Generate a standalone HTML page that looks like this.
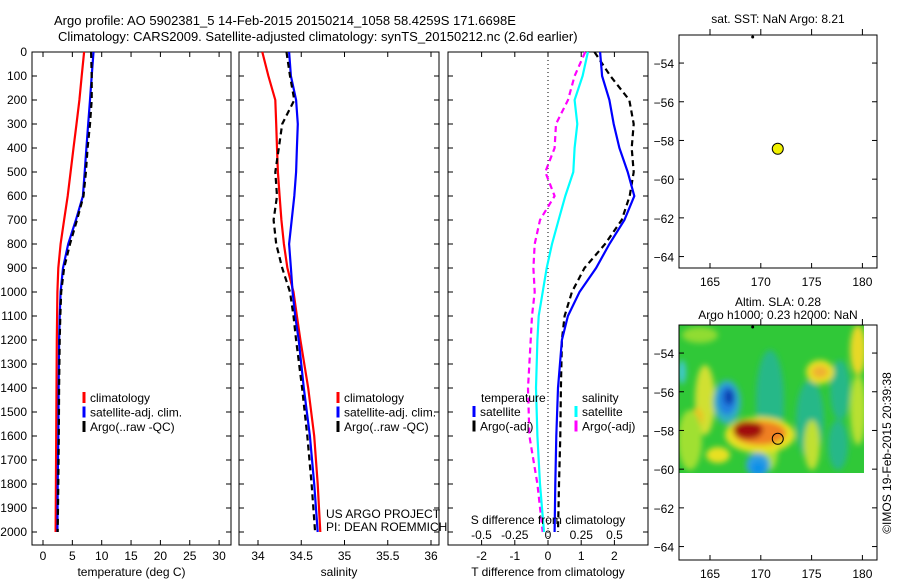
<!DOCTYPE html>
<html><head><meta charset="utf-8">
<style>
html,body{margin:0;padding:0;background:#fff;}
svg{display:block;font-family:"Liberation Sans",sans-serif;}
text{font-size:12px;fill:#000;}
</style></head>
<body>
<svg id="fig" width="900" height="580" viewBox="0 0 900 580" xmlns="http://www.w3.org/2000/svg">
<defs>
<filter id="blur" x="-20%" y="-20%" width="140%" height="140%"><feGaussianBlur stdDeviation="3"/></filter>
<clipPath id="hmclip"><rect x="679" y="325" width="185" height="148"/></clipPath>
</defs>
<text x="54" y="25" style="font-size:13px">Argo profile: AO 5902381_5 14-Feb-2015 20150214_1058 58.4259S 171.6698E</text>
<text x="58" y="41" style="font-size:13px">Climatology: CARS2009. Satellite-adjusted climatology: synTS_20150212.nc (2.6d earlier)</text>
<g id="g"></g>
</svg>
<script>
// depth levels (dbar)
const depths=[0,100,200,300,400,500,600,700,800,900,1000,1100,1200,1400,1600,1800,2000];
// temperature (deg C)
const tClim=[7.0,6.6,6.2,5.7,5.2,4.7,4.2,3.6,3.0,2.6,2.45,2.4,2.35,2.3,2.25,2.2,2.15];
const tSat=[8.6,8.3,8.0,7.7,7.4,7.1,6.8,5.6,4.3,3.4,3.0,2.85,2.75,2.65,2.6,2.5,2.45];
const tArgo=[8.2,8.3,8.3,8.0,7.6,7.3,6.9,5.8,4.6,3.6,3.1,2.95,2.85,2.75,2.7,2.6,2.5];
// salinity
const sClim=[34.05,34.12,34.20,34.21,34.22,34.23,34.25,34.27,34.30,34.34,34.41,34.45,34.49,34.58,34.65,34.69,34.72];
const sSat=[34.36,34.38,34.44,34.46,34.45,34.44,34.42,34.39,34.36,34.38,34.40,34.43,34.47,34.53,34.60,34.65,34.69];
const sArgo=[34.33,34.37,34.42,34.28,34.24,34.20,34.22,34.18,34.21,34.28,34.37,34.41,34.44,34.51,34.57,34.62,34.66];
// differences from climatology
const dTSat=[1.57,1.63,1.85,1.98,2.15,2.4,2.6,2.3,1.85,1.45,0.95,0.6,0.42,0.3,0.25,0.22,0.2];
const dTArgo=[1.4,1.88,2.45,2.58,2.52,2.58,2.46,2.22,1.72,1.1,0.72,0.5,0.42,0.39,0.37,0.33,0.3];
const dSSat=[0.30,0.26,0.20,0.22,0.20,0.19,0.13,0.08,0.03,-0.01,-0.04,-0.07,-0.08,-0.09,-0.08,-0.06,-0.03];
const dSArgo=[0.28,0.20,0.15,0.06,0.05,-0.02,0.05,-0.06,-0.10,-0.11,-0.10,-0.12,-0.13,-0.15,-0.14,-0.08,-0.04];
const depthTicks=[0,100,200,300,400,500,600,700,800,900,1000,1100,1200,1300,1400,1500,1600,1700,1800,1900,2000];
const tTicks=[0,5,10,15,20,25,30];
const sTicks=[34,34.5,35,35.5,36];
const sTickLabels=["34","34.5","35","35.5","36"];
const dtTicks=[-2,-1,0,1,2];
const dsTicks=[-0.5,-0.25,0,0.25,0.5];
const dsTickLabels=["-0.5","-0.25","0","0.25","0.5"];
const lonTicks=[165,170,175,180];
const latTicks=[-54,-56,-58,-60,-62,-64];
const argoLon=[171.67];
const argoLat=[-58.43];

const NS='http://www.w3.org/2000/svg';
const G=document.getElementById('g');
function mk(tag,attrs,parent){const e=document.createElementNS(NS,tag);for(const k in attrs)e.setAttribute(k,attrs[k]);(parent||G).appendChild(e);return e;}
function txt(x,y,s,anchor,parent,size){const e=mk('text',{x:x,y:y,'text-anchor':anchor||'start'},parent);if(size)e.style.fontSize=size+'px';e.textContent=s;return e;}
const yD=d=>52+d*0.24;
const Y0=52,Y1=545;

function panel(name,x0,x1,sx,ticks,labels,xlabel){
  const g=mk('g',{});
  
  
  const r=mk('rect',{x:x0,y:Y0,width:x1-x0,height:Y1-Y0,fill:'none',stroke:'#000','stroke-width':1},g);
  
  
  ticks.forEach((v,i)=>{const x=sx(v);
    mk('line',{x1:x,x2:x,y1:Y1,y2:Y1-5,stroke:'#000'},g);
    mk('line',{x1:x,x2:x,y1:Y0,y2:Y0+5,stroke:'#000'},g);
    if(labels){const t=txt(x,Y1+15,labels[i],'middle',g);}
  });
  depthTicks.forEach(d=>{mk('line',{x1:x0,x2:x0+5,y1:yD(d),y2:yD(d),stroke:'#000'},g);mk('line',{x1:x1,x2:x1-5,y1:yD(d),y2:yD(d),stroke:'#000'},g);});
  if(xlabel){const t=txt((x0+x1)/2,Y1+31,xlabel,'middle',g);}
  return g;
}
function line(g,sx,vals,color,dash,name){
  const p=vals.map((v,i)=>sx(v).toFixed(1)+','+yD(depths[i]).toFixed(1)).join(' ');
  const e=mk('polyline',{points:p,fill:'none',stroke:color,'stroke-width':2.2},g);
  if(dash)e.setAttribute('stroke-dasharray',dash);
  
  
}
function legend(g,x,y,items){
  items.forEach((it,i)=>{const yy=y+i*14.5;
    mk('line',{x1:x,x2:x,y1:yy-10,y2:yy+1,stroke:it[1],'stroke-width':3},g);
    const t=txt(x+6,yy,it[0],'start',g);
    
    
  });
}
depthTicks.forEach(d=>{const t=txt(27,yD(d)+4,String(d),'end');});

// Panel 1 temperature
const sxT=v=>43+v*5.87;
const p1=panel('temperature-panel',32,231,sxT,tTicks,tTicks.map(String),'temperature (deg C)');
line(p1,sxT,tClim,'#f00',null,'temperature-climatology-line');
line(p1,sxT,tSat,'#00f',null,'temperature-satellite-line');
line(p1,sxT,tArgo,'#000','6,4','temperature-argo-line');
legend(p1,84,402,[['climatology','#f00'],['satellite-adj. clim.','#00f'],['Argo(..raw -QC)','#000']]);

// Panel 2 salinity
const sxS=v=>258+(v-34)*86.5;
const p2=panel('salinity-panel',239,439,sxS,sTicks,sTickLabels,'salinity');
line(p2,sxS,sClim,'#f00',null,'salinity-climatology-line');
line(p2,sxS,sSat,'#00f',null,'salinity-satellite-line');
line(p2,sxS,sArgo,'#000','6,4','salinity-argo-line');
legend(p2,338,402,[['climatology','#f00'],['satellite-adj. clim.','#00f'],['Argo(..raw -QC)','#000']]);
txt(326,518,'US ARGO PROJECT','start',p2);
txt(326,531,'PI: DEAN ROEMMICH','start',p2);

// Panel 3 differences
const sxDT=v=>548+v*33.2;
const sxDS=v=>548+v*133;
const p3=panel('difference-panel',448,648,sxDT,dtTicks,dtTicks.map(String),'T difference from climatology');
mk('line',{x1:548,x2:548,y1:Y0,y2:Y1,stroke:'#000','stroke-dasharray':'1,3'},p3);
line(p3,sxDS,dSArgo,'#f0f','6,4','salinity-diff-argo-line');
line(p3,sxDS,dSSat,'#0ff',null,'salinity-diff-satellite-line');
line(p3,sxDT,dTArgo,'#000','6,4','temperature-diff-argo-line');
line(p3,sxDT,dTSat,'#00f',null,'temperature-diff-satellite-line');
txt(481,402,'temperature','start',p3);
legend(p3,474,416,[['satellite','#00f'],['Argo(-adj)','#000']]);
txt(582,402,'salinity','start',p3);
legend(p3,576,416,[['satellite','#0ff'],['Argo(-adj)','#f0f']]);
txt(548,524,'S difference from climatology','middle',p3);
dsTicks.forEach((v,i)=>{const t=txt(sxDS(v),539,dsTickLabels[i],'middle',p3);});

// Maps
const sxLon=v=>710+(v-165)*10.16;
function map(name,top,bottom,title1,title2){
  const g=mk('g',{});
  
  
  const latY=v=>top+(v-(-52.55))*(-19.35);
  if(title1)txt(778,title2?top-19:top-12,title1,'middle',g);
  if(title2)txt(778,top-6,title2,'middle',g);
  return {g,latY};
}
const m1=map('sst-map',35,268,'sat. SST: NaN Argo: 8.21',null);
const m2=map('sla-map',325,560,'Altim. SLA: 0.28','Argo h1000: 0.23 h2000: NaN');
const hm=mk('g',{'clip-path':'url(#hmclip)'},m2.g);


mk('rect',{x:679,y:325,width:185,height:148,fill:'#30c838'},hm);
const fb=mk('g',{filter:'url(#blur)'},hm);
[[700,335,18,8,'#90dc30'],[858,350,8,25,'#e8d828'],[858,410,8,35,'#b8e030'],
 [705,400,10,35,'#d0e030'],[697,418,6,10,'#f0c020'],[690,440,12,30,'#a0e030'],[682,372,4,12,'#40c8d0'],
 [770,400,14,50,'#28b888'],[810,420,14,40,'#28b888'],[840,390,10,30,'#28b888'],[838,445,10,25,'#28b888'],
 [820,372,14,12,'#e8e020'],[820,372,8,6,'#f0b030'],[770,450,8,20,'#a8e030'],[812,445,8,25,'#c0e030'],
 [727,402,14,22,'#30b0c0'],[727,400,9,15,'#2080e0'],[729,397,5,8,'#1040b0'],
 [760,435,35,18,'#e8e020'],[760,433,26,12,'#f08020'],[748,430,15,9,'#a01010'],
 [758,465,12,12,'#30a0e0'],[758,468,7,7,'#1090e8'],[718,455,12,8,'#e8e020']].forEach(b=>{
  mk('ellipse',{cx:b[0],cy:b[1],rx:b[2],ry:b[3],fill:b[4]},fb);});
[m1,m2].forEach((m,k)=>{
  const top=k?325:35,bottom=k?560:268;
  mk('rect',{x:679,y:top,width:198,height:bottom-top,fill:'none',stroke:'#000'},m.g);
  lonTicks.forEach(v=>{const x=sxLon(v);
    mk('line',{x1:x,x2:x,y1:bottom,y2:bottom-5,stroke:'#000'},m.g);
    mk('line',{x1:x,x2:x,y1:top,y2:top-6,stroke:'#000'},m.g);
    const t=txt(x,bottom+18,String(v),'middle',m.g);
    
    
  });
  latTicks.forEach(v=>{const y=m.latY(v);
    mk('line',{x1:679,x2:684,y1:y,y2:y,stroke:'#000'},m.g);
    mk('line',{x1:877,x2:872,y1:y,y2:y,stroke:'#000'},m.g);
    const t=txt(674,y+5,String(v).replace('-','\u2212'),'end',m.g);
    
    
  });
  mk('circle',{cx:sxLon(169.2),cy:top+2,r:1.5,fill:'#000'},m.g);
  argoLon.forEach((lon,i)=>{
    const c=mk('circle',{cx:sxLon(lon),cy:m.latY(argoLat[i]),r:5.5,fill:k?'none':'#f0f000',stroke:'#000','stroke-width':1},m.g);
    
    
  });
});
const cr=mk('text',{x:0,y:0,transform:'translate(891,453) rotate(-90)','text-anchor':'middle'});


cr.textContent='\u00a9IMOS 19-Feb-2015 20:39:38';
</script>
</body></html>
